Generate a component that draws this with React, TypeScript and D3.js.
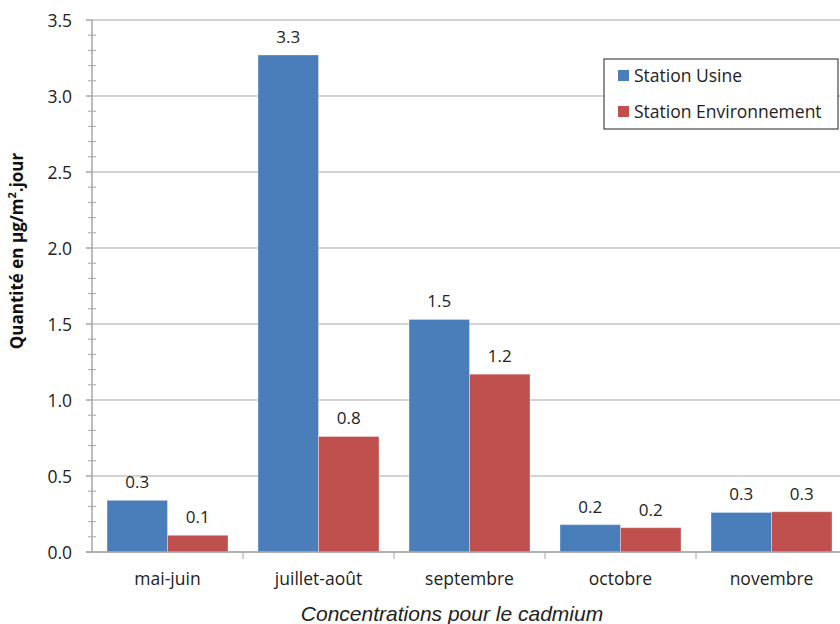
import React from "react";
import * as d3 from "d3";

const categories = ["mai-juin", "juillet-août", "septembre", "octobre", "novembre"];
const usine = [0.34, 3.27, 1.53, 0.18, 0.26];
const environnement = [0.11, 0.76, 1.17, 0.16, 0.265];
const usineLabels = ["0.3", "3.3", "1.5", "0.2", "0.3"];
const envLabels = ["0.1", "0.8", "1.2", "0.2", "0.3"];
const yTicks = [0, 0.5, 1.0, 1.5, 2.0, 2.5, 3.0, 3.5];
const seriesNames = ["Station Usine", "Station Environnement"];
const colors = ["#4a7ebb", "#c0504d"];

export default function App() {
  const W = 840, H = 624;
  const left = 92, top = 20, bottom = 552;
  const catW = 151;
  const right = left + catW * categories.length;
  const y = d3.scaleLinear().domain([0, 3.5]).range([bottom, top]);
  const x0 = d3.scaleBand().domain(categories).range([left, right]).paddingInner(0).paddingOuter(0);
  const inner = d3.scaleBand().domain(["0", "1"]).range([15, catW - 15]);
  const minorTicks = d3.range(0, 3.5001, 0.1).filter((v) => Math.abs(v * 2 - Math.round(v * 2)) > 1e-6);
  const font = "'Open Sans', 'Noto Sans', sans-serif";
  const series = [usine, environnement];
  const labels = [usineLabels, envLabels];

  return (
    <svg width={W} height={H} style={{ position: "absolute", left: 0, top: 0, background: "#fff" }} fontFamily={font}>
      {yTicks.map((t) => (
        <line key={"g" + t} x1={left} x2={right} y1={y(t)} y2={y(t)} stroke="#a6a6a6" strokeWidth={1} />
      ))}
      {categories.map((c, i) =>
        series.map((s, k) => {
          const bx = (x0(c) as number) + (inner(String(k)) as number);
          const bw = inner.bandwidth();
          return (
            <g key={c + k}>
              <rect x={bx} y={y(s[i])} width={bw} height={bottom - y(s[i])} fill={colors[k]} stroke="#ffffff" strokeOpacity={0.35} strokeWidth={1} />
              <text x={bx + bw / 2} y={y(s[i]) - 12} textAnchor="middle" fontSize={17} fill="#222">{labels[k][i]}</text>
            </g>
          );
        })
      )}
      <line x1={left} x2={left} y1={top} y2={bottom} stroke="#a6a6a6" strokeWidth={1.5} />
      {yTicks.map((t) => (
        <g key={"t" + t}>
          <line x1={left - 6} x2={left} y1={y(t)} y2={y(t)} stroke="#a6a6a6" strokeWidth={1.5} />
          <text x={left - 20} y={y(t) + 6.5} textAnchor="end" fontSize={17.5} fill="#222">{t.toFixed(1)}</text>
        </g>
      ))}
      {minorTicks.map((t) => (
        <line key={"m" + t.toFixed(2)} x1={left - 4} x2={left + 4} y1={y(t)} y2={y(t)} stroke="#a6a6a6" strokeWidth={1} />
      ))}
      <line x1={left - 6} x2={right} y1={bottom} y2={bottom} stroke="#a6a6a6" strokeWidth={1.5} />
      {categories.map((c) => (
        <g key={"x" + c}>
          <line x1={(x0(c) as number) + catW} x2={(x0(c) as number) + catW} y1={bottom} y2={bottom + 7} stroke="#a6a6a6" strokeWidth={1} />
          <text x={(x0(c) as number) + catW / 2} y={bottom + 33} textAnchor="middle" fontSize={17.5} fill="#222">{c}</text>
        </g>
      ))}
      <text transform={`translate(23,251) rotate(-90)`} textAnchor="middle" fontSize={17} fontWeight="bold" fill="#111">
        Quantité en µg/m<tspan baselineShift="super" fontSize={11}>2</tspan>.jour
      </text>
      <text x={452} y={621} textAnchor="middle" fontSize={21} fontStyle="italic" fontFamily="'Liberation Sans', Arial, sans-serif" fill="#222">
        Concentrations pour le cadmium
      </text>
      <rect x={604} y={59} width={234} height={70} fill="#fff" stroke="#222" strokeWidth={1} />
      {seriesNames.map((n, k) => (
        <g key={n}>
          <rect x={618} y={70 + k * 36} width={11} height={11} fill={colors[k]} />
          <text x={634} y={82 + k * 36} fontSize={17.5} fill="#222">{n}</text>
        </g>
      ))}
    </svg>
  );
}
